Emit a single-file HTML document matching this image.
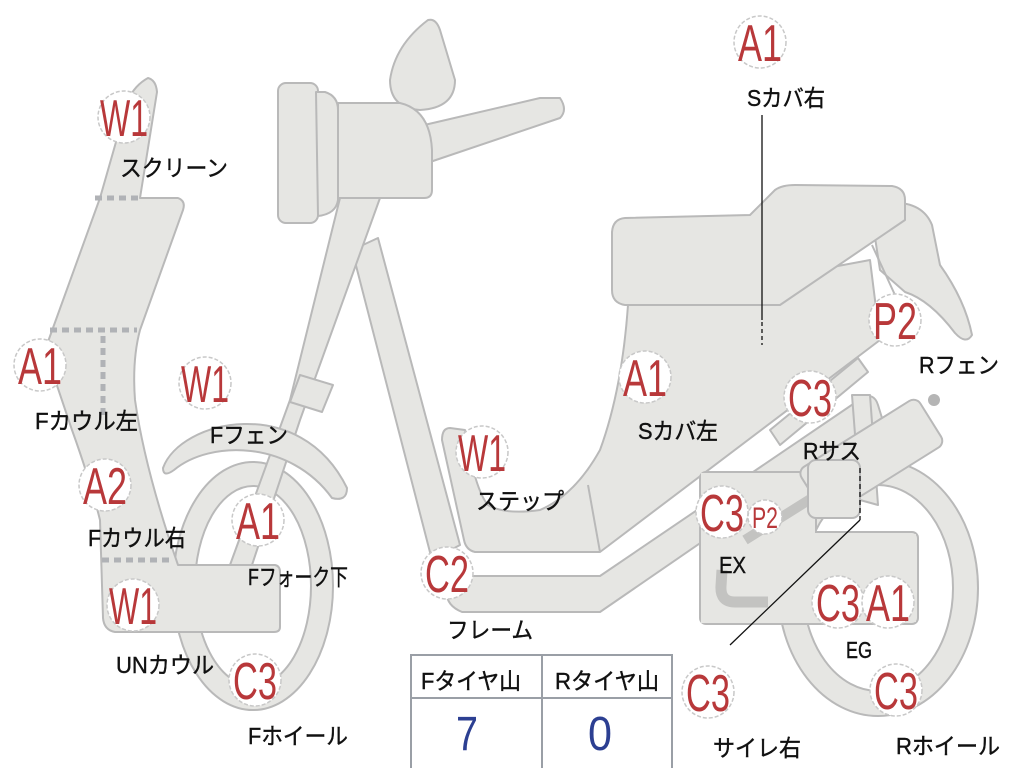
<!DOCTYPE html>
<html><head><meta charset="utf-8"><style>
html,body{margin:0;padding:0;background:#fff;}
svg{display:block;}
.s{fill:#e6e6e3;stroke:#b9b9b9;stroke-width:2;stroke-linejoin:round;}
.b{fill:#fff;stroke:#c8c8c8;stroke-width:1.5;stroke-dasharray:4 2;}
.bt{fill:#b8383a;font-family:"Liberation Sans",sans-serif;font-size:52px;text-anchor:middle;}
.l{fill:#111;stroke:#111;stroke-width:0.4;font-family:"Liberation Sans","Noto Sans CJK JP",sans-serif;font-size:23px;}
.d{stroke:#b0b2b6;stroke-width:5;stroke-dasharray:7 5;fill:none;}
</style></head><body>
<svg width="1024" height="768" viewBox="0 0 1024 768" xmlns="http://www.w3.org/2000/svg">
<!-- rear wheel -->
<path class="s" fill-rule="evenodd" d="M978,588 A100,128 0 1 1 778,588 A100,128 0 1 1 978,588 Z M953,588 A75,103 0 1 0 803,588 A75,103 0 1 0 953,588 Z"/>
<!-- front wheel -->
<path class="s" fill-rule="evenodd" d="M333,586 A80,124 0 1 1 173,586 A80,124 0 1 1 333,586 Z M311,586 A58,100 0 1 0 195,586 A58,100 0 1 0 311,586 Z"/>
<!-- frame down tube -->
<polygon class="s" points="352,250 378,238 460,545 432,560"/>
<!-- fork -->
<polygon class="s" points="340,198 380,198 300,420 252,565 230,565 290,400"/>
<polygon class="s" points="300,375 333,385 322,412 290,402"/>
<!-- fender -->
<path class="s" d="M163,468 C180,420 300,392 347,488 Q347,502 332,498 C290,440 210,440 174,470 Q163,478 163,468Z"/>
<!-- handlebar -->
<path class="s" d="M420,126 L540,98 L560,98 Q568,110 560,118 L430,162 Z"/>
<!-- mirror -->
<path class="s" d="M428,20 Q436,18 440,30 L455,80 Q455,108 420,110 Q390,108 390,80 Q395,45 428,20Z"/>
<!-- headlight -->
<rect class="s" x="278" y="83" width="40" height="140" rx="8"/>
<path class="s" d="M316,92 L325,92 Q338,96 338,110 L338,200 Q336,214 318,216 Z"/>
<path class="s" d="M338,103 L400,103 Q430,110 432,150 L432,190 Q432,198 424,198 L338,198 Z"/>
<!-- cowl -->
<path class="s" d="M148,78 Q156,80 157,92 L140,198 L178,198 Q186,201 183,210 L140,330 Q132,360 135,400 Q145,470 178,565 L275,565 Q280,566 280,572 L280,627 Q280,632 274,632 L115,632 Q104,630 103,618 L100,520 Q90,480 72,430 L45,350 L100,198 L128,100 Q135,85 148,78Z"/>
<path class="d" d="M95,198 H140 M50,330 H137 M103,336 V420 M102,560 H170"/>
<!-- seat body / step -->
<path class="s" d="M450,428 L465,430 Q475,490 488,505 Q505,515 540,510 Q575,495 600,450 Q622,390 628,305 L870,260 L880,340 L600,552 L475,552 Q466,550 464,540 L442,440 Q442,428 450,428Z"/>
<line x1="588" y1="485" x2="600" y2="552" stroke="#b9b9b9" stroke-width="2"/>
<!-- rear fender -->
<path class="s" d="M870,205 Q920,195 932,225 L940,265 Q965,300 972,335 Q966,345 955,333 Q930,300 905,292 L880,270 Z"/>
<line x1="872" y1="245" x2="895" y2="295" stroke="#b9b9b9" stroke-width="2"/>
<!-- seat -->
<path class="s" d="M625,218 L750,215 L775,190 Q782,185 795,185 L892,186 Q905,188 905,200 L905,220 L780,305 L625,305 Q612,303 612,290 L612,232 Q613,219 625,218Z"/>
<!-- lower frame band -->
<path class="s" d="M460,576 L600,576 L862,398 Q874,392 878,405 L882,418 L600,612 L462,612 Q445,605 447,590 Q450,577 460,576Z"/>
<!-- engine -->
<rect class="s" x="700" y="472" width="116" height="152" rx="6"/>
<rect class="s" x="800" y="532" width="118" height="92" rx="6"/>
<rect x="701" y="473" width="114" height="150" fill="#e6e6e3"/>
<rect x="802" y="534" width="114" height="88" fill="#e6e6e3"/>
<path d="M768,602 L735,602 Q720,602 721,586 L722,570" stroke="#c3c3c1" stroke-width="11" fill="none"/>
<line x1="745" y1="540" x2="828" y2="488" stroke="#c3c3c1" stroke-width="10"/>
<!-- rear shock bar -->
<polygon class="s" points="770,430 858,358 868,372 780,445"/>
<polygon class="s" points="852,395 860,500 878,505 870,395"/>
<!-- muffler -->
<circle cx="934" cy="400" r="6" fill="#b5b5b5"/>
<g transform="rotate(-32 870 455)"><rect class="s" x="800" y="430" width="140" height="55" rx="8"/></g>
<rect class="s" x="808" y="460" width="52" height="58" rx="8"/>
<!-- lines -->
<line x1="762" y1="115" x2="762" y2="320" stroke="#111" stroke-width="1.3"/>
<line x1="762" y1="322" x2="762" y2="345" stroke="#111" stroke-width="1.3" stroke-dasharray="4 3"/>
<line x1="860" y1="468" x2="860" y2="520" stroke="#111" stroke-width="1.3" stroke-dasharray="5 3"/>
<line x1="860" y1="520" x2="730" y2="645" stroke="#111" stroke-width="1.3"/>
<!-- badges -->
<g>
<circle class="b" cx="124" cy="117" r="26"/><text class="bt" x="124" y="136" textLength="48" lengthAdjust="spacingAndGlyphs">W1</text>
<circle class="b" cx="40" cy="365" r="26"/><text class="bt" x="40" y="384" textLength="44" lengthAdjust="spacingAndGlyphs">A1</text>
<circle class="b" cx="105" cy="485" r="26"/><text class="bt" x="105" y="504" textLength="44" lengthAdjust="spacingAndGlyphs">A2</text>
<circle class="b" cx="133" cy="605" r="26"/><text class="bt" x="133" y="624" textLength="48" lengthAdjust="spacingAndGlyphs">W1</text>
<circle class="b" cx="205" cy="383" r="26"/><text class="bt" x="205" y="402" textLength="48" lengthAdjust="spacingAndGlyphs">W1</text>
<circle class="b" cx="258" cy="520" r="26"/><text class="bt" x="258" y="539" textLength="44" lengthAdjust="spacingAndGlyphs">A1</text>
<circle class="b" cx="255" cy="680" r="26"/><text class="bt" x="255" y="699" textLength="44" lengthAdjust="spacingAndGlyphs">C3</text>
<circle class="b" cx="482" cy="452" r="26"/><text class="bt" x="482" y="471" textLength="48" lengthAdjust="spacingAndGlyphs">W1</text>
<circle class="b" cx="447" cy="573" r="26"/><text class="bt" x="447" y="592" textLength="44" lengthAdjust="spacingAndGlyphs">C2</text>
<circle class="b" cx="645" cy="377" r="26"/><text class="bt" x="645" y="396" textLength="44" lengthAdjust="spacingAndGlyphs">A1</text>
<circle class="b" cx="760" cy="42" r="26"/><text class="bt" x="760" y="61" textLength="44" lengthAdjust="spacingAndGlyphs">A1</text>
<circle class="b" cx="895" cy="320" r="26"/><text class="bt" x="895" y="339" textLength="44" lengthAdjust="spacingAndGlyphs">P2</text>
<circle class="b" cx="810" cy="397" r="26"/><text class="bt" x="810" y="416" textLength="44" lengthAdjust="spacingAndGlyphs">C3</text>
<circle class="b" cx="722" cy="512" r="26"/><text class="bt" x="722" y="531" textLength="44" lengthAdjust="spacingAndGlyphs">C3</text>
<circle class="b" cx="765" cy="517" r="17"/><text class="bt" x="765" y="528" style="font-size:30px" textLength="26" lengthAdjust="spacingAndGlyphs">P2</text>
<circle class="b" cx="838" cy="602" r="26"/><text class="bt" x="838" y="621" textLength="44" lengthAdjust="spacingAndGlyphs">C3</text>
<circle class="b" cx="888" cy="602" r="26"/><text class="bt" x="888" y="621" textLength="44" lengthAdjust="spacingAndGlyphs">A1</text>
<circle class="b" cx="708" cy="692" r="26"/><text class="bt" x="708" y="711" textLength="44" lengthAdjust="spacingAndGlyphs">C3</text>
<circle class="b" cx="896" cy="690" r="26"/><text class="bt" x="896" y="709" textLength="44" lengthAdjust="spacingAndGlyphs">C3</text>
</g>
<!-- labels -->
<g class="l">
<text x="120" y="176" textLength="108" lengthAdjust="spacingAndGlyphs">スクリーン</text>
<text x="35" y="429" textLength="103" lengthAdjust="spacingAndGlyphs">Fカウル左</text>
<text x="88" y="546" textLength="98" lengthAdjust="spacingAndGlyphs">Fカウル右</text>
<text x="116" y="673" textLength="98" lengthAdjust="spacingAndGlyphs">UNカウル</text>
<text x="210" y="443" textLength="78" lengthAdjust="spacingAndGlyphs">Fフェン</text>
<text x="248" y="585" textLength="100" lengthAdjust="spacingAndGlyphs">Fフォーク下</text>
<text x="248" y="744" textLength="100" lengthAdjust="spacingAndGlyphs">Fホイール</text>
<text x="476" y="509" textLength="88" lengthAdjust="spacingAndGlyphs">ステップ</text>
<text x="447" y="638" textLength="86" lengthAdjust="spacingAndGlyphs">フレーム</text>
<text x="638" y="439" textLength="80" lengthAdjust="spacingAndGlyphs">Sカバ左</text>
<text x="747" y="106" textLength="78" lengthAdjust="spacingAndGlyphs">Sカバ右</text>
<text x="919" y="373" textLength="80" lengthAdjust="spacingAndGlyphs">Rフェン</text>
<text x="803" y="459" textLength="58" lengthAdjust="spacingAndGlyphs">Rサス</text>
<text x="719" y="573" textLength="27" lengthAdjust="spacingAndGlyphs">EX</text>
<text x="846" y="658" textLength="26" lengthAdjust="spacingAndGlyphs">EG</text>
<text x="713" y="756" textLength="88" lengthAdjust="spacingAndGlyphs">サイレ右</text>
<text x="896" y="754" textLength="104" lengthAdjust="spacingAndGlyphs">Rホイール</text>
</g>
<!-- table -->
<rect x="411" y="655" width="261" height="115" fill="#fff" stroke="#9a9fa6" stroke-width="2"/>
<line x1="411" y1="698" x2="672" y2="698" stroke="#9a9fa6" stroke-width="2"/>
<line x1="542" y1="655" x2="542" y2="768" stroke="#9a9fa6" stroke-width="2"/>
<text class="l" x="421" y="689" textLength="100" lengthAdjust="spacingAndGlyphs">Fタイヤ山</text>
<text class="l" x="555" y="689" textLength="104" lengthAdjust="spacingAndGlyphs">Rタイヤ山</text>
<text x="467" y="750" fill="#2c3f92" font-family="Liberation Sans,sans-serif" font-size="48" text-anchor="middle" textLength="22" lengthAdjust="spacingAndGlyphs">7</text>
<text x="600" y="750" fill="#2c3f92" font-family="Liberation Sans,sans-serif" font-size="48" text-anchor="middle" textLength="24" lengthAdjust="spacingAndGlyphs">0</text>
</svg>
</body></html>
